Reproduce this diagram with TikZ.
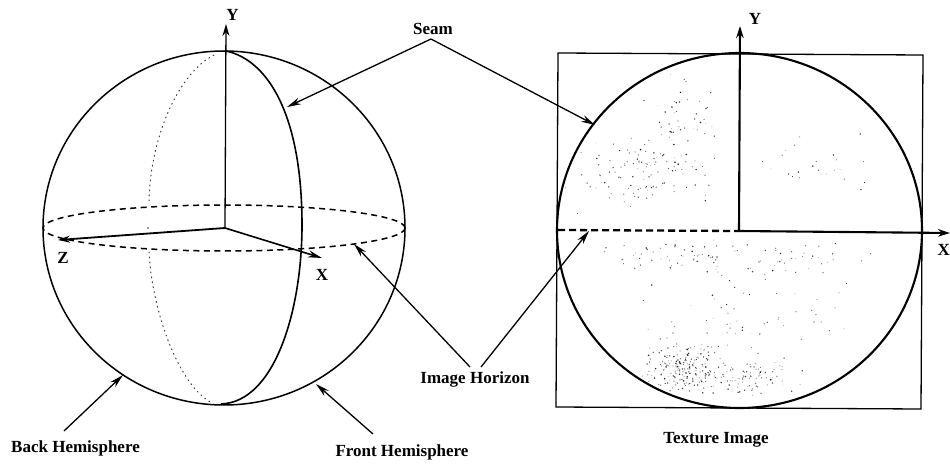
\documentclass[tikz,border=0pt]{standalone}
\usepackage{fontspec}
\setmainfont{Liberation Serif}
\usetikzlibrary{arrows.meta}
\tikzset{
  lab/.style={inner sep=0pt,font=\fontsize{17}{18}\selectfont\bfseries},
  axlab/.style={inner sep=0pt,font=\fontsize{17}{18}\selectfont\bfseries},
  ptr/.style={line width=1.3pt,-{Stealth[length=14pt,width=7pt]}},
  axis/.style={line width=1.3pt,-{Stealth[length=12pt,width=7pt]}},
  thickaxis/.style={line width=2.1pt,-{Stealth[length=12pt,width=7.5pt]}},
  outline/.style={line width=1.5pt},
  heavy/.style={line width=2.1pt},
  dash1/.style={line width=1.5pt,dash pattern=on 6pt off 4.5pt},
  dash2/.style={line width=2.3pt,dash pattern=on 7pt off 4pt},
  dotline/.style={line width=1pt,black!75,dash pattern=on 1pt off 4pt,line cap=round},
}
\newcommand{\stip}[5]{% cx cy sx sy n
  \foreach \k in {1,...,#5}{
    \pgfmathsetmacro{\dx}{#3*(rand+rand)/1.3}
    \pgfmathsetmacro{\dy}{#4*(rand+rand)/1.3}
    \pgfmathsetmacro{\dr}{0.4+0.5*rnd}
    \pgfmathsetmacro{\dg}{int(25+70*rnd)}
    \fill[black!\dg] (#1+\dx,#2+\dy) circle[radius=\dr pt];
  }}
\begin{document}
\begin{tikzpicture}[x=1pt,y=-1pt]
\useasboundingbox (0,0) rectangle (950,465);
\clip (0,0) rectangle (950,465);
\fill[white] (0,0) rectangle (950,465);

% ---------- left sphere
\coordinate (o1) at (225,228);
\coordinate (yt1) at (226,24);
\coordinate (zt) at (58,240);
\coordinate (xt) at (322,258);
\draw[outline] (224,228) ellipse[x radius=181,y radius=177];
\draw[dash1] (224,228) ellipse[x radius=181,y radius=23];
\draw[dotline] (214,55) .. controls (180,72) and (150,135) .. (149,203);
\fill[black!80] (148,228) circle[radius=0.8pt];
\draw[dotline] (149,252) .. controls (152,310) and (178,385) .. (212,403);
\draw[line width=1.6pt] (226,51) .. controls (268,60) and (302,115) .. (302,225)
  .. controls (302,310) and (275,402) .. (221,404);
\draw[axis] (o1) -- (yt1);
\draw[line width=1.8pt,-{Stealth[length=12pt,width=7pt]}] (o1) -- (zt);
\draw[line width=1.6pt,-{Stealth[length=14pt,width=7pt]}] (o1) -- (xt);

% ---------- right image
\coordinate (sqa) at (558,53);
\coordinate (sqb) at (923,55);
\coordinate (sqc) at (921,409);
\coordinate (sqd) at (556,407);
\coordinate (o2) at (739,231);
\coordinate (yt2) at (740,26);
\coordinate (xt2) at (950,233);
\coordinate (hz) at (558,230);

\begin{scope}
\clip (739.5,230.5) ellipse[x radius=180,y radius=175];
\pgfmathsetseed{4711}
\stip{680}{118}{24}{34}{50}
\stip{640}{175}{55}{28}{110}
\stip{815}{170}{50}{30}{25}
\stip{670}{255}{60}{12}{45}
\stip{790}{258}{65}{14}{50}
\stip{745}{320}{80}{40}{70}
\stip{680}{368}{26}{17}{190}
\stip{745}{378}{48}{16}{100}
\end{scope}

\draw[line width=1.3pt] (sqa) -- (sqb) -- (sqc) -- (sqd) -- cycle;
\draw[heavy] (739.5,230.5) ellipse[x radius=182.5,y radius=177.5];
\draw[dash2] (hz) -- (o2);
\draw[thickaxis] (o2) -- (yt2);
\draw[thickaxis] (o2) -- (xt2);

% ---------- labels
\node[axlab] (ylab1) at (232.5,15) {Y};
\node[axlab] (zlab) at (63,258) {Z};
\node[axlab] (xlab) at (322,275) {X};
\node[axlab] (ylab2) at (755,19) {Y};
\node[axlab,anchor=east] (xlab2) at (950,250) {X};
\node[lab] (seam) at (433,29) {Seam};
\node[lab] (horizon) at (475,379) {Image Horizon};
\node[lab] (back) at (75.5,448) {Back Hemisphere};
\node[lab] (front) at (402,452) {Front Hemisphere};
\node[lab] (texture) at (716,440) {Texture Image};

% ---------- pointers
\coordinate (apex) at (431,39);
\coordinate (seamL) at (287,107);
\coordinate (seamR) at (595,125);
\coordinate (horL) at (354,244);
\coordinate (horR) at (589,231);
\coordinate (hl0) at (470,367);
\coordinate (hr0) at (481,367);
\coordinate (backTip) at (123,375);
\coordinate (back0) at (64,431);
\coordinate (frontTip) at (316,384);
\coordinate (front0) at (373,434);
\draw[ptr] (apex) -- (seamL);
\draw[ptr] (apex) -- (seamR);
\draw[ptr] (hl0) -- (horL);
\draw[ptr] (hr0) -- (horR);
\draw[ptr] (back0) -- (backTip);
\draw[ptr] (front0) -- (frontTip);
\end{tikzpicture}
\end{document}
